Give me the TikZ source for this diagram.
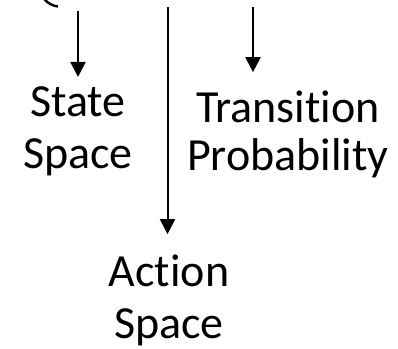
\documentclass[tikz,border=0pt]{standalone}
\usepackage{fontspec}
\setmainfont[Ligatures=NoCommon]{Carlito}
\usetikzlibrary{arrows.meta}
\begin{document}
\begin{tikzpicture}[x=1pt,y=-1pt,
  label text/.style={font=\fontsize{46}{52}\selectfont, align=center,
    inner sep=0pt, anchor=base},
  pointer/.style={line width=2pt, -{Triangle[width=15pt,length=15pt]}}]
  \useasboundingbox (0,0) rectangle (398,348);

  % tail of the bracket above the labels
  \draw[line width=2.4pt] (44,-1) .. controls (48,3.5) and (53,6) .. (58,6.5);

  % arrow start points
  \coordinate (s1) at (78,11);
  \coordinate (s2) at (167.5,7);
  \coordinate (s3) at (253,7);

  % labels (anchored at the baseline of their last line)
  \node[label text] (state) at (78,168) {State\\Space};
  \node[label text] (trans) at (288,170) {Transition\\[-4pt]Probability};
  \node[label text] (action) at (169,338) {Action\\Space};

  % pointers to the labels
  \draw[pointer] (s1) -- ([yshift=9pt]s1 |- state.north);
  \draw[pointer] (s2) -- ([yshift=20pt]s2 |- action.north);
  \draw[pointer] (s3) -- ([yshift=18pt]s3 |- trans.north);
\end{tikzpicture}
\end{document}
